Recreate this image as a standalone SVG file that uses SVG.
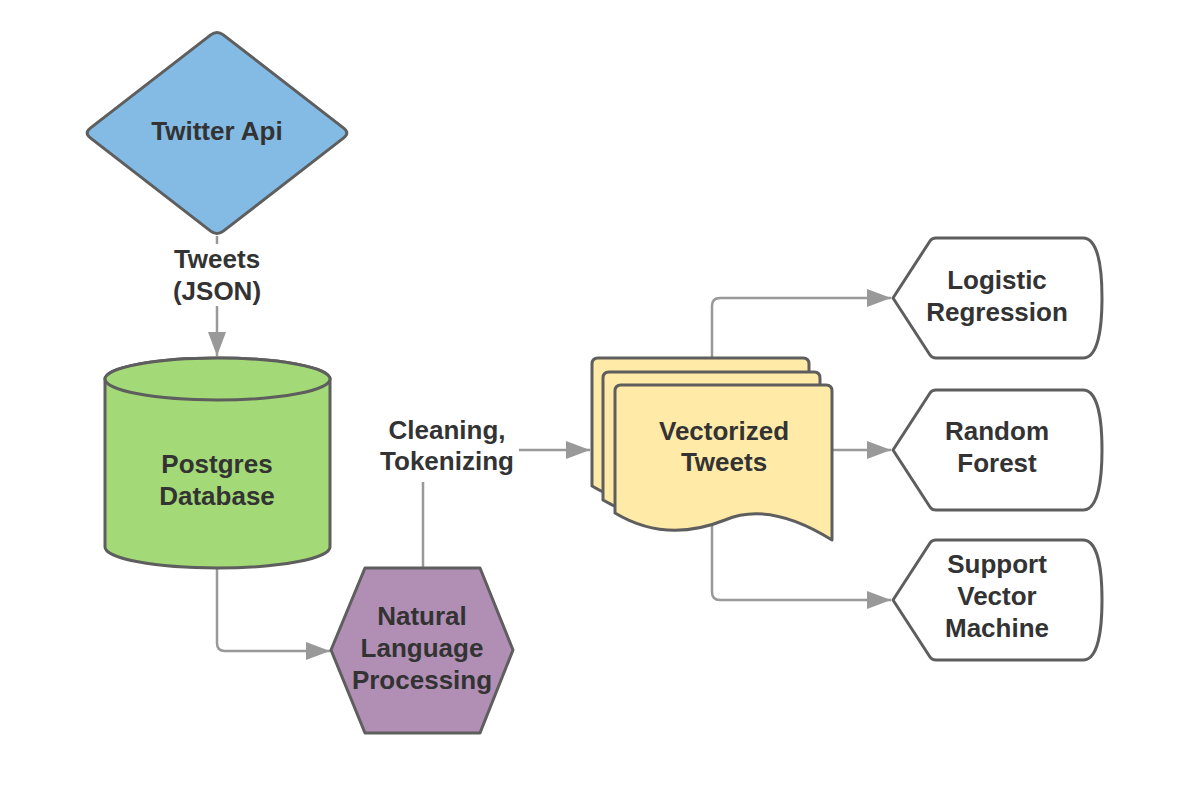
<svg xmlns="http://www.w3.org/2000/svg" xmlns:xlink="http://www.w3.org/1999/xlink" width="1204" height="794" viewBox="0 0 1204 794">
<style>
.shape{stroke:#5e5e5e;stroke-width:3;stroke-linejoin:round}
.lbl{font-family:"Liberation Sans",Arial,sans-serif;font-weight:bold;font-size:26px;fill:#333333;text-anchor:middle}
.conn{fill:none;stroke:#999999;stroke-width:2.5}
</style>
<defs>
<marker id="arr" markerUnits="userSpaceOnUse" markerWidth="26" markerHeight="18" refX="24" refY="9" orient="auto">
<path d="M0,0 L24,9 L0,18 Z" fill="#999999"/>
</marker>
<path id="page" d="M0,6 Q0,0 6,0 H211 Q217,0 217,6 V155 C185,135 145,120 110,135 C85,145 45,155 0,128 Z"/>
<path id="disp" d="M0,0 L37,-57 Q39,-60 43,-60 H190 C205,-60 209,-30 209,0 C209,30 205,60 190,60 H43 Q39,60 37,57 Z"/>
</defs>
<rect width="1204" height="794" fill="#ffffff"/>
<g id="connectors">
<path class="conn" d="M217,236 V356" marker-end="url(#arr)"/>
<rect x="158" y="244" width="118" height="62" fill="#ffffff"/>
<text class="lbl" x="217" y="268">Tweets</text>
<text class="lbl" x="217" y="300">(JSON)</text>
<path class="conn" d="M217,568 V643 Q217,651 225,651 H330" marker-end="url(#arr)"/>
<path class="conn" d="M423,568 V450 H590" marker-end="url(#arr)"/>
<rect x="372" y="412" width="147" height="70" fill="#ffffff"/>
<text class="lbl" x="447" y="439">Cleaning,</text>
<text class="lbl" x="447" y="470">Tokenizing</text>
<path class="conn" d="M712,358 V306 Q712,298 720,298 H891" marker-end="url(#arr)"/>
<path class="conn" d="M832,450 H891" marker-end="url(#arr)"/>
<path class="conn" d="M712,522 V592 Q712,600 720,600 H891" marker-end="url(#arr)"/>
</g>
<g id="twitter-api">
<path class="shape" fill="#83bbe5" d="M210.7,34.9 Q217,30 223.3,34.9 L343.7,128.1 Q350,133 343.7,137.9 L223.3,231.1 Q217,236 210.7,231.1 L90.3,137.9 Q84,133 90.3,128.1 Z"/>
<text class="lbl" x="217" y="140">Twitter Api</text>
</g>
<g id="postgres-database">
<path class="shape" fill="#a3d977" d="M105,379 V547 A112.5,21 0 0 0 330,547 V379 A112.5,21 0 0 0 105,379 Z"/>
<ellipse class="shape" fill="#a3d977" cx="217.5" cy="379" rx="112.5" ry="21"/>
<text class="lbl" x="217" y="473">Postgres</text>
<text class="lbl" x="217" y="505">Database</text>
</g>
<g id="nlp">
<polygon class="shape" fill="#b18fb5" points="331,650 365,568 480,568 513,650 480,733 365,733"/>
<text class="lbl" x="422" y="625">Natural</text>
<text class="lbl" x="422" y="657">Language</text>
<text class="lbl" x="422" y="689">Processing</text>
</g>
<g id="vectorized-tweets">
<use xlink:href="#page" class="shape" fill="#ffeaa8" transform="translate(592,358)"/>
<use xlink:href="#page" class="shape" fill="#ffeaa8" transform="translate(603,372)"/>
<use xlink:href="#page" class="shape" fill="#ffeaa8" transform="translate(615,385)"/>
<text class="lbl" x="724" y="440">Vectorized</text>
<text class="lbl" x="724" y="471">Tweets</text>
</g>
<g id="logistic-regression">
<use xlink:href="#disp" class="shape" fill="#ffffff" transform="translate(893,298)"/>
<text class="lbl" x="997" y="289">Logistic</text>
<text class="lbl" x="997" y="321">Regression</text>
</g>
<g id="random-forest">
<use xlink:href="#disp" class="shape" fill="#ffffff" transform="translate(893,450)"/>
<text class="lbl" x="997" y="440">Random</text>
<text class="lbl" x="997" y="472">Forest</text>
</g>
<g id="svm">
<use xlink:href="#disp" class="shape" fill="#ffffff" transform="translate(893,600)"/>
<text class="lbl" x="997" y="573">Support</text>
<text class="lbl" x="997" y="605">Vector</text>
<text class="lbl" x="997" y="637">Machine</text>
</g>
</svg>
